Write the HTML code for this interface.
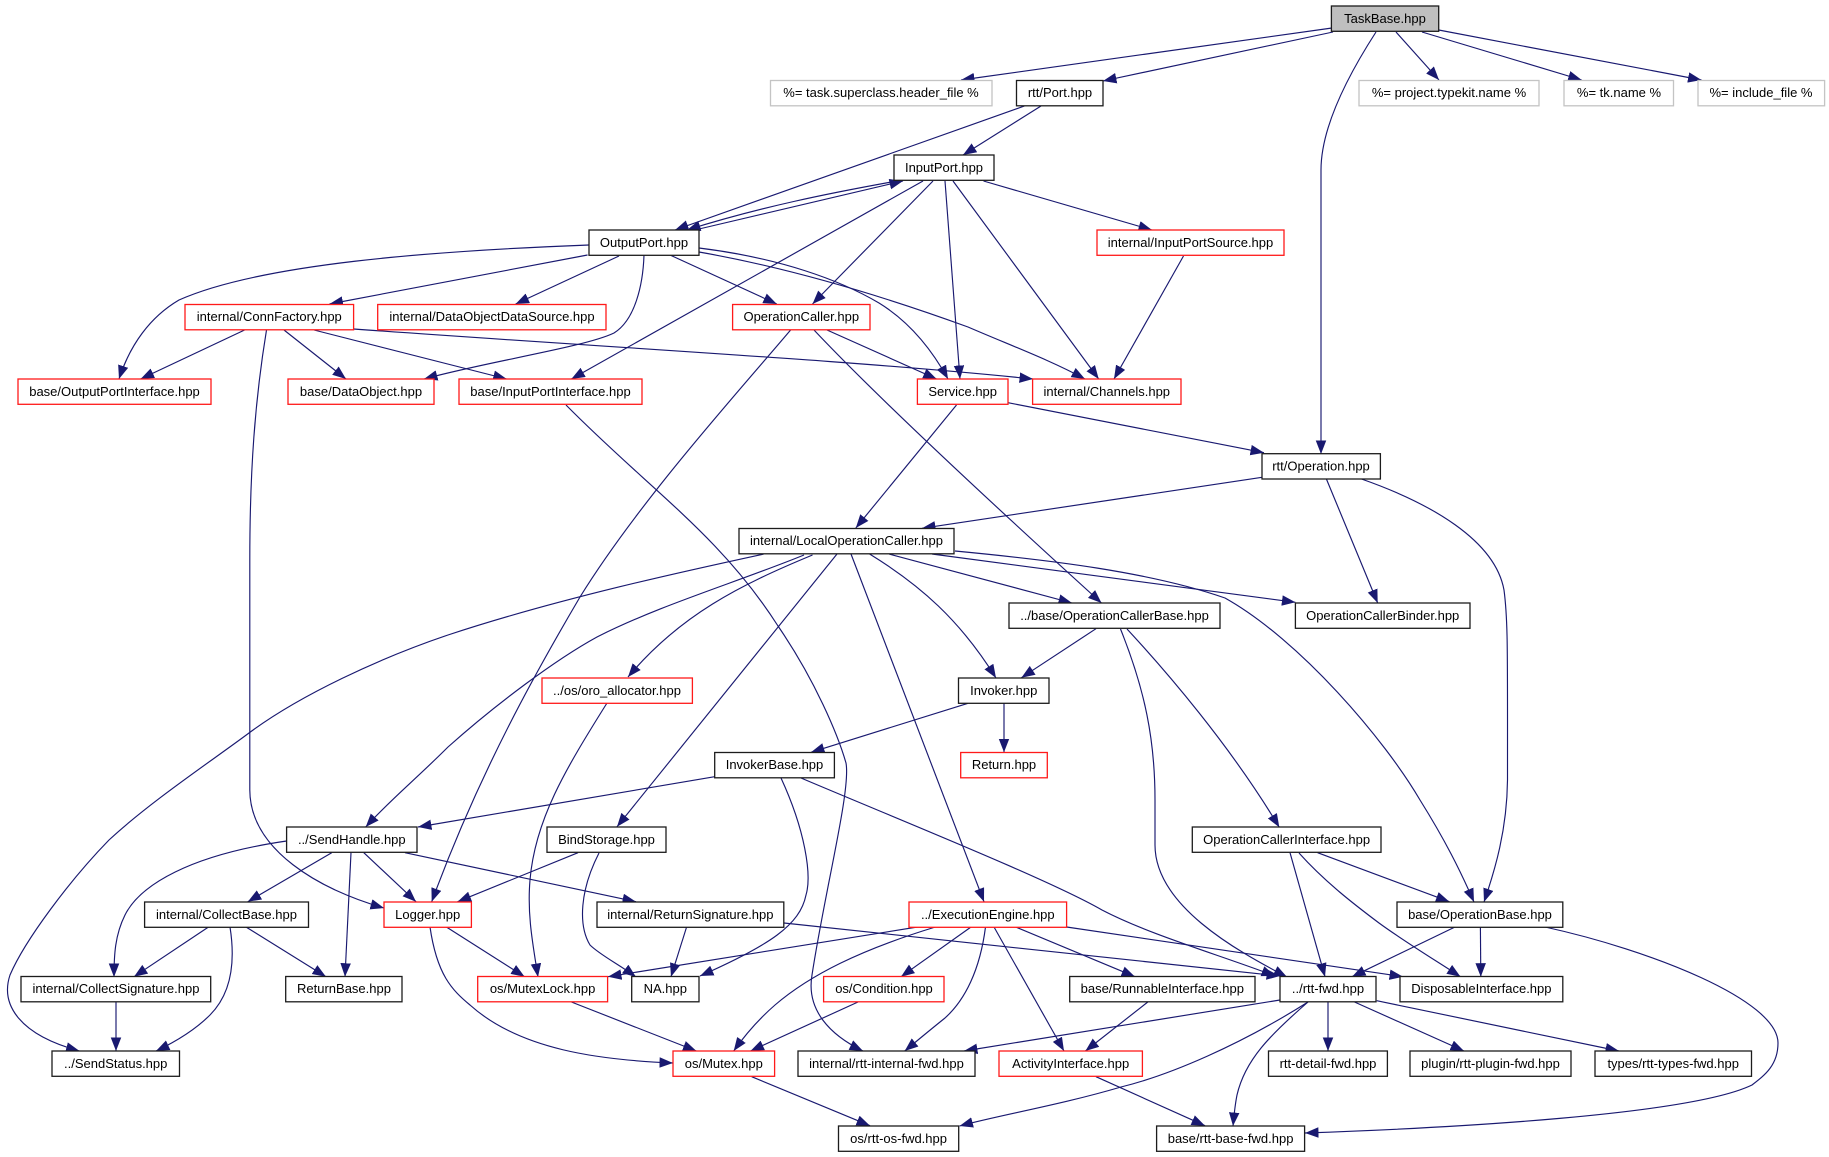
<!DOCTYPE html>
<html><head><meta charset="utf-8"><title>TaskBase.hpp include graph</title>
<style>
html,body{margin:0;padding:0;background:#fff}
svg{display:block}
text{font-family:"Liberation Sans",sans-serif;font-size:13px;text-anchor:middle;fill:#000}
rect{fill:#fff;stroke-width:1.3}
.k{stroke:#1c1c1c}.r{stroke:#ff1a1a}.g{stroke:#c4c4c4}
path{fill:none;stroke:#191970;stroke-width:1.15;marker-end:url(#a)}
</style></head><body>
<svg xmlns="http://www.w3.org/2000/svg" width="1829" height="1157" viewBox="0 0 1829 1157">
<defs><marker id="a" markerUnits="userSpaceOnUse" markerWidth="15" markerHeight="12" refX="13.5" refY="5.25" orient="auto"><polygon points="0,0 13.5,5.25 0,10.5" fill="#191970"/></marker></defs>
<g>
<path d="M1332 28L961 80"/>
<path d="M1333 32L1103 81"/>
<path d="M1024.5 106C900 150 780 192 675 230"/>
<path d="M1041 106L963 155"/>
<path d="M699 229L903 181"/>
<path d="M897 181C830 193 760 207 687 230"/>
<path d="M983.5 181L1152 230"/>
<path d="M953 181L1098.7 379"/>
<path d="M945 181L960 379"/>
<path d="M933 181L812.5 304"/>
<path d="M923 181L571.4 379"/>
<path d="M1183.5 256L1114 379"/>
<path d="M827 330L936.6 379"/>
<path d="M814 330C880 400 1010 520 1101.5 603"/>
<path d="M790.6 330C740 390 640 500 580 597C540 665 480 770 431.7 901.7"/>
<path d="M589 245C430 251 260 264 179 300C150 317 130 345 119 379"/>
<path d="M587.5 255L329.5 304"/>
<path d="M619 256L515.6 304"/>
<path d="M644 255C643 285 635 320 614 333C585 347 490 361 424 379"/>
<path d="M670 255L776.8 304"/>
<path d="M699 248C780 258 840 280 879 303C910 322 932 350 948 379"/>
<path d="M699 252C790 268 880 295 968 327C1012 346 1050 360 1085 379"/>
<path d="M244.6 330L140.6 379"/>
<path d="M266.5 330C255 400 249.8 470 249.8 560L249.8 790C250 850 320 890 384 908"/>
<path d="M284 330L346 379"/>
<path d="M314 330L506.7 379"/>
<path d="M353.6 329C600 347 850 360 1033 379"/>
<path d="M566 405C650 490 720 535 778 626C815 680 838 735 846 763C851 790 825 890 812 975C806 1010 830 1035 863 1051"/>
<path d="M1008 402.7L1264 452.7"/>
<path d="M956.5 405L855.8 528"/>
<path d="M1376 32C1345 80 1321 130 1321 170L1321 454"/>
<path d="M1396 32L1439 80"/>
<path d="M1422 32L1581.7 80"/>
<path d="M1438.7 30L1701.5 80"/>
<path d="M1262 477.3L922 528.3"/>
<path d="M1326.4 479L1377.7 603"/>
<path d="M1361.5 479C1430 503 1495 540 1504 590C1508 620 1507.5 650 1507.5 780C1507 830 1495 870 1484 902"/>
<path d="M764 554C690 570 560 598 448 635C380 658 300 695 249 733C210 762 150 802 109 840C70 880 25 940 10 975C0 1005 20 1035 79.5 1051"/>
<path d="M804 555C735 583 660 605 597 637C555 660 495 705 448 747C415 780 390 800 365.7 827"/>
<path d="M812.5 555C740 585 680 615 628 677"/>
<path d="M837 554L617 826.7"/>
<path d="M851 554L984 901.7"/>
<path d="M869.6 554C920 585 960 620 996 678"/>
<path d="M889 554L1072 603"/>
<path d="M932 554L1295.4 602.3"/>
<path d="M955 551C1050 560 1150 572 1225 598C1300 640 1385 740 1420 800C1445 840 1460 870 1474 902"/>
<path d="M1096 628.7L1021.4 677.7"/>
<path d="M1120.5 629C1145 690 1155 740 1155 800L1155 845C1155 905 1235 950 1287 977"/>
<path d="M1127 629C1165 670 1230 745 1279.3 827.3"/>
<path d="M968 703.3L811 752.3"/>
<path d="M1004 703L1004 752.3"/>
<path d="M714.7 776.7L418 827"/>
<path d="M781 778C805 830 812 875 806 895C800 925 770 945 700 976"/>
<path d="M801 778C900 820 1050 880 1102 910C1150 935 1220 955 1275 976"/>
<path d="M286.6 841C190 855 140 885 125 915C115 935 114 955 114 977"/>
<path d="M331.7 852.7L247.8 901.7"/>
<path d="M351 852.7L345 976.7"/>
<path d="M363.8 852.7L416 901.7"/>
<path d="M405 852.7L636 901.7"/>
<path d="M578 852.7L457.6 901.7"/>
<path d="M599 853C580 890 578 925 590 945C600 955 620 965 636 977"/>
<path d="M607 703C565 770 535 820 530 880C527 915 533 945 538 977"/>
<path d="M208.5 927L134 976.7"/>
<path d="M230 927C236 965 230 995 210 1015C195 1030 175 1042 156 1051"/>
<path d="M246 927L326 976.7"/>
<path d="M116 1002L116 1051"/>
<path d="M446.4 927L524.6 976.7"/>
<path d="M430 927C437 975 452 990 470 1005C520 1050 600 1060 673 1063"/>
<path d="M571.4 1002L696.4 1051"/>
<path d="M686.6 927L671 976.7"/>
<path d="M784 923L1280 976"/>
<path d="M917.4 927L608 976.7"/>
<path d="M935.4 927C860 950 810 975 775 1005C760 1018 745 1035 733.7 1051"/>
<path d="M971 927L901 976.7"/>
<path d="M985.5 927C980 970 965 1000 945 1018C930 1030 918 1040 904.7 1051"/>
<path d="M994 927L1064 1051"/>
<path d="M1015.7 927L1135 976.7"/>
<path d="M1066.6 927L1403 976.7"/>
<path d="M858 1002L750.5 1051"/>
<path d="M751.7 1076.7L870 1125.7"/>
<path d="M1147.8 1002L1085.4 1051"/>
<path d="M1096 1076.7L1205 1125.7"/>
<path d="M1280 1000L964 1051"/>
<path d="M1308 1002C1240 1045 1170 1075 1121 1087C1060 1105 1000 1115 959.5 1126"/>
<path d="M1308 1002C1270 1035 1245 1060 1237 1095C1235 1105 1234 1115 1233 1126"/>
<path d="M1328 1002L1328 1051"/>
<path d="M1354.5 1002L1464 1051"/>
<path d="M1376.7 1000.7L1619 1051"/>
<path d="M1317.6 852.7L1449.4 901.7"/>
<path d="M1290 852.7L1325 976.7"/>
<path d="M1299 853C1325 882 1355 905 1379 923C1405 942 1435 960 1460.5 976.7"/>
<path d="M1455 927L1352 976.7"/>
<path d="M1480.4 927L1480.8 976.7"/>
<path d="M1545 927C1650 950 1778 1000 1778 1043C1778 1065 1765 1075 1752 1085C1690 1115 1450 1128 1305 1133"/>
</g>
<g>
<rect class="k" x="1331.4" y="6" width="107.3" height="25.3" style="fill:#bfbfbf"/><text x="1385" y="22.8">TaskBase.hpp</text>
<rect class="g" x="770.5" y="80.5" width="221.5" height="25.3"/><text x="881" y="97.2">%= task.superclass.header_file %</text>
<rect class="k" x="1016.5" y="80.5" width="86.5" height="25.3"/><text x="1060" y="97.2">rtt/Port.hpp</text>
<rect class="g" x="1359" y="80.5" width="180" height="25.3"/><text x="1449" y="97.2">%= project.typekit.name %</text>
<rect class="g" x="1564" y="80.5" width="109.5" height="25.3"/><text x="1619" y="97.2">%= tk.name %</text>
<rect class="g" x="1698" y="80.5" width="126.6" height="25.3"/><text x="1761" y="97.2">%= include_file %</text>
<rect class="k" x="894" y="155" width="100" height="25.3"/><text x="944" y="171.8">InputPort.hpp</text>
<rect class="k" x="589" y="230" width="110" height="25.3"/><text x="644" y="246.8">OutputPort.hpp</text>
<rect class="r" x="1097" y="230" width="187" height="25.3"/><text x="1190.5" y="246.8">internal/InputPortSource.hpp</text>
<rect class="r" x="185" y="304.5" width="168.6" height="25.3"/><text x="269.3" y="321.2">internal/ConnFactory.hpp</text>
<rect class="r" x="377.7" y="304.5" width="228.3" height="25.3"/><text x="492" y="321.2">internal/DataObjectDataSource.hpp</text>
<rect class="r" x="732.6" y="304.5" width="137.4" height="25.3"/><text x="801.3" y="321.2">OperationCaller.hpp</text>
<rect class="r" x="18" y="379" width="193" height="25.3"/><text x="114.5" y="395.8">base/OutputPortInterface.hpp</text>
<rect class="r" x="288" y="379" width="146" height="25.3"/><text x="361" y="395.8">base/DataObject.hpp</text>
<rect class="r" x="459" y="379" width="183" height="25.3"/><text x="550.5" y="395.8">base/InputPortInterface.hpp</text>
<rect class="r" x="917.4" y="379" width="90.6" height="25.3"/><text x="962.7" y="395.8">Service.hpp</text>
<rect class="r" x="1032.6" y="379" width="148.4" height="25.3"/><text x="1106.8" y="395.8">internal/Channels.hpp</text>
<rect class="k" x="1262" y="453.7" width="118.4" height="25.3"/><text x="1321" y="470.5">rtt/Operation.hpp</text>
<rect class="k" x="739" y="528.5" width="215" height="25.3"/><text x="846.5" y="545.2">internal/LocalOperationCaller.hpp</text>
<rect class="k" x="1009" y="603" width="211" height="25.3"/><text x="1114.5" y="619.8">../base/OperationCallerBase.hpp</text>
<rect class="k" x="1295.4" y="603" width="174.6" height="25.3"/><text x="1382.7" y="619.8">OperationCallerBinder.hpp</text>
<rect class="r" x="542" y="678" width="150.4" height="25.3"/><text x="617" y="694.8">../os/oro_allocator.hpp</text>
<rect class="k" x="958.5" y="678" width="90.5" height="25.3"/><text x="1003.7" y="694.8">Invoker.hpp</text>
<rect class="k" x="714.7" y="752.5" width="119.7" height="25.3"/><text x="774.5" y="769.2">InvokerBase.hpp</text>
<rect class="r" x="960.7" y="752.5" width="86.6" height="25.3"/><text x="1004" y="769.2">Return.hpp</text>
<rect class="k" x="286.6" y="827" width="130.4" height="25.3"/><text x="351.8" y="843.8">../SendHandle.hpp</text>
<rect class="k" x="547" y="827" width="119" height="25.3"/><text x="606.5" y="843.8">BindStorage.hpp</text>
<rect class="k" x="1192.3" y="827" width="188.7" height="25.3"/><text x="1286.6" y="843.8">OperationCallerInterface.hpp</text>
<rect class="k" x="144.6" y="902" width="163.9" height="25.3"/><text x="226.5" y="918.8">internal/CollectBase.hpp</text>
<rect class="r" x="384" y="902" width="87.4" height="25.3"/><text x="427.7" y="918.8">Logger.hpp</text>
<rect class="k" x="597" y="902" width="186.8" height="25.3"/><text x="690.4" y="918.8">internal/ReturnSignature.hpp</text>
<rect class="r" x="909" y="902" width="157.6" height="25.3"/><text x="987.8" y="918.8">../ExecutionEngine.hpp</text>
<rect class="k" x="1397" y="902" width="165.8" height="25.3"/><text x="1480" y="918.8">base/OperationBase.hpp</text>
<rect class="k" x="21" y="976.5" width="189.7" height="25.3"/><text x="116" y="993.2">internal/CollectSignature.hpp</text>
<rect class="k" x="285.7" y="976.5" width="116.3" height="25.3"/><text x="344" y="993.2">ReturnBase.hpp</text>
<rect class="r" x="477.7" y="976.5" width="129.9" height="25.3"/><text x="542.6" y="993.2">os/MutexLock.hpp</text>
<rect class="k" x="631.7" y="976.5" width="67.3" height="25.3"/><text x="665.3" y="993.2">NA.hpp</text>
<rect class="r" x="823.6" y="976.5" width="120.4" height="25.3"/><text x="884" y="993.2">os/Condition.hpp</text>
<rect class="k" x="1069.7" y="976.5" width="185.3" height="25.3"/><text x="1162.3" y="993.2">base/RunnableInterface.hpp</text>
<rect class="k" x="1280" y="976.5" width="96" height="25.3"/><text x="1328" y="993.2">../rtt-fwd.hpp</text>
<rect class="k" x="1400" y="976.5" width="162.8" height="25.3"/><text x="1481.4" y="993.2">DisposableInterface.hpp</text>
<rect class="k" x="52" y="1051" width="127.5" height="25.3"/><text x="115.7" y="1067.8">../SendStatus.hpp</text>
<rect class="r" x="673" y="1051" width="101.6" height="25.3"/><text x="723.8" y="1067.8">os/Mutex.hpp</text>
<rect class="k" x="798" y="1051" width="177" height="25.3"/><text x="886.5" y="1067.8">internal/rtt-internal-fwd.hpp</text>
<rect class="r" x="999" y="1051" width="143.4" height="25.3"/><text x="1070.7" y="1067.8">ActivityInterface.hpp</text>
<rect class="k" x="1268.5" y="1051" width="118.9" height="25.3"/><text x="1328" y="1067.8">rtt-detail-fwd.hpp</text>
<rect class="k" x="1410" y="1051" width="161" height="25.3"/><text x="1490.5" y="1067.8">plugin/rtt-plugin-fwd.hpp</text>
<rect class="k" x="1595" y="1051" width="156.5" height="25.3"/><text x="1673.2" y="1067.8">types/rtt-types-fwd.hpp</text>
<rect class="k" x="838.5" y="1126" width="120.2" height="25.3"/><text x="898.6" y="1142.8">os/rtt-os-fwd.hpp</text>
<rect class="k" x="1156.6" y="1126" width="148" height="25.3"/><text x="1230.6" y="1142.8">base/rtt-base-fwd.hpp</text>
</g>
</svg>
</body></html>
